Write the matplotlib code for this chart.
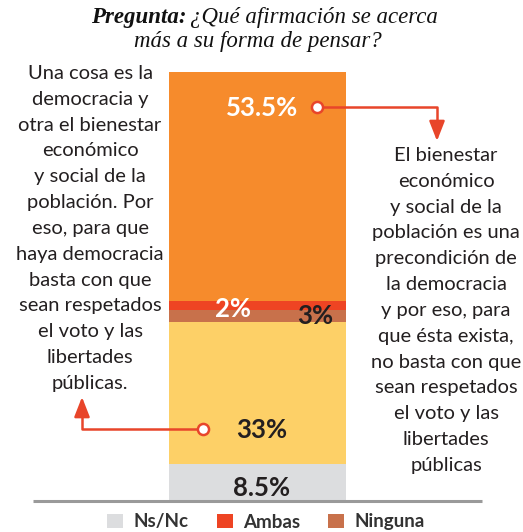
import matplotlib.pyplot as plt
from matplotlib.patches import Patch

# data
cats = ["Ns/Nc", "Pública opción B", "Ninguna", "Ambas", "Pública opción A"]
vals = [8.5, 33, 3, 2, 53.5]
colors = ["#dcdddf", "#fdd067", "#c8714b", "#ee4423", "#f68b2c"]
labels = ["8.5%", "33%", "3%", "2%", "53.5%"]
legend_names = ["Ns/Nc", "Ambas", "Ninguna"]
legend_cols = ["#dcdddf", "#ee4423", "#c8714b"]

left_txt = ("Una cosa es la\ndemocracia y\notra el bienestar\neconómico\n"
            "y social de la\npoblación. Por\neso, para que\nhaya democracia\n"
            "basta con que\nsean respetados\nel voto y las\nlibertades\npúblicas.")
right_txt = ("El bienestar\neconómico\ny social de la\npoblación es una\n"
             "precondición de\nla democracia\ny por eso, para\nque ésta exista,\n"
             "no basta con que\nsean respetados\nel voto y las\nlibertades\npúblicas")

W, H = 523, 532
txt_col = "#231f20"
red = "#e8452a"
plt.rcParams['font.family'] = ['Lato', 'DejaVu Sans']

fig = plt.figure(figsize=(W / 100, H / 100), dpi=100)
ax = fig.add_axes([0, 32 / H, 1, 428 / H])
ax.set_xlim(0, W)
ax.set_ylim(0, 100)
ax.axis('off')

bottom = 0
for v, c in zip(vals, colors):
    ax.bar(257.5, v, width=177, bottom=bottom, color=c, linewidth=0)
    bottom += v

# overlay in pixel coords
ov = fig.add_axes([0, 0, 1, 1], facecolor='none')
ov.set_xlim(0, W)
ov.set_ylim(H, 0)
ov.axis('off')

ov.plot([33, 482], [501, 501], color="#9a9a9a", lw=2.2, solid_capstyle='butt')

# title
tfont = dict(family='Liberation Serif', style='italic', fontsize=16.5, color="#111111")
ov.text(187, 17, "Pregunta:", ha='right', va='center', weight='bold', **tfont)
ov.text(190, 17, "¿Qué afirmación se acerca", ha='left', va='center', **tfont)
ov.text(258, 41, "más a su forma de pensar?", ha='center', va='center', **tfont)

ov.text(90, 65, left_txt, ha='center', va='top', fontsize=14.5,
        linespacing=1.63, color=txt_col)
ov.text(446, 147, right_txt, ha='center', va='top', fontsize=14.5,
        linespacing=1.63, color=txt_col)

# value labels
lab_pos = [(262, 488), (262, 430), (315, 316), (233, 309), (262, 108)]
lab_col = [txt_col, txt_col, txt_col, "white", "white"]
for (x, y), t, c in zip(lab_pos, labels, lab_col):
    ov.text(x, y, t, ha='center', va='center', fontsize=18.5, weight='bold', color=c)

# connector arrows
aprops = dict(arrowstyle='-|>,head_length=1.2,head_width=0.47',
              color=red, lw=1.8, shrinkA=0, shrinkB=0)
ov.plot([317, 437, 437], [107, 107, 126], color=red, lw=1.8)
ov.annotate("", xy=(437, 141), xytext=(437, 123), arrowprops=aprops)
ov.plot([317], [107], 'o', ms=8, mfc='white', mec=red, mew=1.8)

ov.plot([203, 82, 82], [429, 429, 412], color=red, lw=1.8)
ov.annotate("", xy=(82, 397), xytext=(82, 415), arrowprops=aprops)
ov.plot([203], [429], 'o', ms=8, mfc='white', mec=red, mew=1.8)

handles = [Patch(facecolor=c, edgecolor='none') for c in legend_cols]
fig.legend(handles, legend_names, loc='center', bbox_to_anchor=(266 / W, 1 - 522 / H),
           ncol=3, frameon=False, handlelength=0.85, handleheight=0.85,
           handletextpad=0.55, columnspacing=1.5,
           prop=dict(family='Lato', weight='bold', size=13.5))
for t in fig.legends[0].get_texts():
    t.set_color("#333333")

fig.savefig("out.png", dpi=100)
